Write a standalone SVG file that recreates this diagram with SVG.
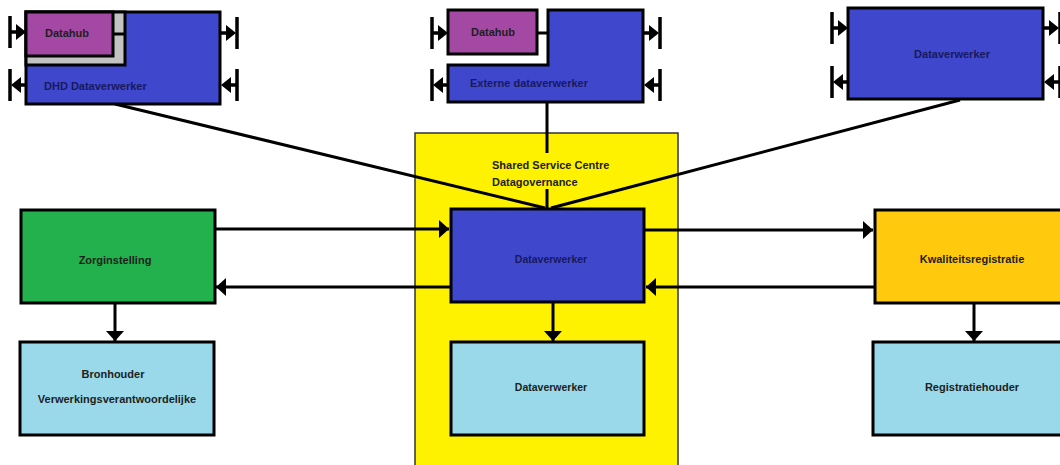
<svg xmlns="http://www.w3.org/2000/svg" width="1060" height="465" viewBox="0 0 1060 465">
<style>
.box{stroke:#000;stroke-width:3}
.blue{fill:#3F48CC}
.purple{fill:#A349A4}
.gray{fill:#C3C3C3}
.green{fill:#22B14C}
.orange{fill:#FFC90E}
.light{fill:#99D9EA}
.t{font-family:"Liberation Sans",Arial,sans-serif;font-weight:bold;font-size:11px;fill:#1e1e1e;dominant-baseline:central}
.tb{fill:#18195e}
.c{text-anchor:middle}
.line{stroke:#000;stroke-width:3;fill:none}
.pin{stroke:#000;stroke-width:3.5;fill:none}
</style>
<defs>
<marker id="ah" markerUnits="userSpaceOnUse" viewBox="0 0 10 18" refX="10" refY="9" markerWidth="10" markerHeight="18" orient="auto">
<path d="M0,0 L10,9 L0,18 Z" fill="#000"/>
</marker>
<g id="pinInL"><path class="pin" d="M-16,-16 V16 M-16,0 H-8"/><path d="M0,0 L-10,-8 L-10,8 Z" fill="#000"/></g>
<g id="pinOutL"><path class="pin" d="M-16,-16 V16 M-6,0 H0"/><path d="M-15,0 L-5,-8 L-5,8 Z" fill="#000"/></g>
<g id="pinOutR"><path class="pin" d="M17,-16 V16 M0,0 H8"/><path d="M16,0 L6,-8 L6,8 Z" fill="#000"/></g>
<g id="pinInR"><path class="pin" d="M17,-16 V16 M6,0 H17"/><path d="M1,0 L11,-8 L11,8 Z" fill="#000"/></g>
</defs>
<rect width="1060" height="465" fill="#fff"/>

<g id="ssc">
<rect x="415" y="133" width="263" height="340" fill="#FFF200" stroke="#333" stroke-width="1.5"/>
<text class="t" x="492" y="165">Shared Service Centre</text>
<text class="t" x="492" y="182">Datagovernance</text>
</g>

<g id="connectors">
<path class="line" d="M115,104 L545,208"/>
<path class="line" d="M960,100 L551,208"/>
<path class="line" d="M547,102 V153 M547,189 V208"/>
<path class="line" d="M216,229 H449" marker-end="url(#ah)"/>
<path class="line" d="M450,287 H216" marker-end="url(#ah)"/>
<path class="line" d="M645,230 H873" marker-end="url(#ah)"/>
<path class="line" d="M874,287 H646" marker-end="url(#ah)"/>
<path class="line" d="M115,304 V341" marker-end="url(#ah)"/>
<path class="line" d="M553,303 V341" marker-end="url(#ah)"/>
<path class="line" d="M974,304 V341" marker-end="url(#ah)"/>
</g>

<g id="dhd">
<rect class="box blue" x="26" y="12" width="194" height="92"/>
<rect class="box gray" x="26" y="12" width="99" height="53"/>
<rect class="box purple" x="26" y="12" width="87" height="44"/>
<path class="line" d="M113,34 H125"/>
<text class="t c" x="67" y="33">Datahub</text>
<text class="t tb" x="44" y="86">DHD Dataverwerker</text>
<use href="#pinInL" x="26" y="32"/>
<use href="#pinOutL" x="26" y="85"/>
<use href="#pinOutR" x="220" y="33"/>
<use href="#pinInR" x="220" y="85"/>
</g>

<g id="externe">
<path class="box blue" d="M548,10 H643 V102 H448 V65 H548 Z"/>
<rect class="box purple" x="448" y="10" width="89" height="44"/>
<path class="line" d="M537,33 H548"/>
<text class="t c" x="493" y="32">Datahub</text>
<text class="t tb" x="470" y="83">Externe dataverwerker</text>
<use href="#pinInL" x="448" y="33"/>
<use href="#pinOutL" x="448" y="85"/>
<use href="#pinOutR" x="643" y="33"/>
<use href="#pinInR" x="643" y="85"/>
</g>

<g id="dv-top">
<rect class="box blue" x="848" y="8" width="195" height="91"/>
<text class="t tb c" x="952" y="54">Dataverwerker</text>
<use href="#pinInL" x="848" y="28"/>
<use href="#pinOutL" x="848" y="82"/>
<use href="#pinOutR" x="1043" y="28"/>
<use href="#pinInR" x="1043" y="82"/>
</g>

<g id="zorg">
<rect class="box green" x="21" y="210" width="194" height="93"/>
<text class="t c" x="115" y="260">Zorginstelling</text>
</g>

<g id="dv-center">
<rect class="box blue" x="451" y="209" width="193" height="93"/>
<text class="t tb c" x="551" y="259" style="font-size:10.5px">Dataverwerker</text>
</g>

<g id="kwal">
<rect class="box orange" x="875" y="210" width="194" height="93"/>
<text class="t c" x="972" y="259">Kwaliteitsregistratie</text>
</g>

<g id="bron">
<rect class="box light" x="20" y="342" width="194" height="93"/>
<text class="t c" x="113" y="374">Bronhouder</text>
<text class="t c" x="117" y="399">Verwerkingsverantwoordelijke</text>
</g>

<g id="dv-bottom">
<rect class="box light" x="451" y="342" width="193" height="93"/>
<text class="t c" x="551" y="387" style="font-size:10.5px">Dataverwerker</text>
</g>

<g id="reg">
<rect class="box light" x="873" y="342" width="194" height="93"/>
<text class="t c" x="972" y="387">Registratiehouder</text>
</g>
</svg>
